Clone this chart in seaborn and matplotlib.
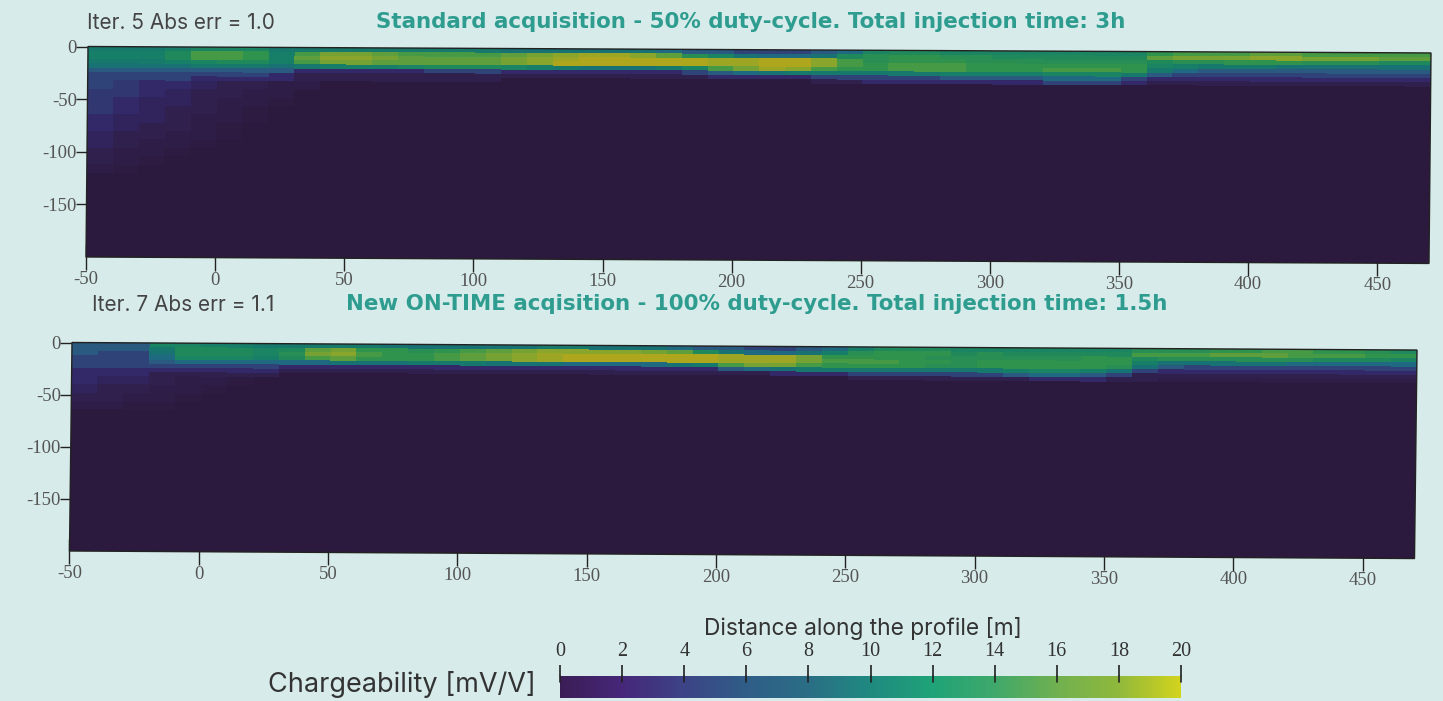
import numpy as np
import pandas as pd
import matplotlib
matplotlib.use("Agg")
import matplotlib.pyplot as plt
import seaborn as sns
from matplotlib.cm import ScalarMappable
from matplotlib.colors import LinearSegmentedColormap, Normalize
from matplotlib.patches import Rectangle
from matplotlib.transforms import Affine2D

# ---- data: chargeability [mV/V], one list per 4 m depth row,
# one value per 10 m column starting at x = -50 m
std_d00 = [7,7,7,8,9,9,9,7, 7,7,7,7,7,7,7,7,6,6,6, 6,6,6,5,4,4,3,3,3,4,5, 9,10,10,9,9,9,9,9,9,9,9, 12,13,13,13,14,14,13,13,13,13,13]
std_d04 = [8,8,8,10,13,13,12,8, 13,15,15,14,13,13,13,13,14,15,16, 17,17,16,14,11,9,6,5,5,6,10, 11,12,12,11,11,10,10,10,10,10,10, 14,15,15,15,16,16,15,15,15,14,14]
std_d08 = [8,8,8,10,13,13,12,8, 14,16,16,15,14,14,14,14,15,16,17, 18,18,18,18,18,17,17,18,18,16,13, 11,12,12,12,11,11,11,11,11,11,11, 10,11,11,12,12,12,11,11,11,10,10]
std_d12 = [7,7,7,8,9,10,10,8, 13,15,15,14,14,14,14,14,15,16,18, 18,18,18,18,18,17,17,18,18,16,13, 12,13,13,13,12,12,12,12,12,12,12, 9,8,7,7,7,6,6,6,6,6,6]
std_d16 = [6,6,6,6,7,7,7,6, 7,8,8,8,9,10,10,10,9,8,7, 6,6,6,7,9,13,15,17,16,13,12, 12,13,13,13,12,12,12,13,13,13,12, 7,5,4,4,4,4,4,4,4,4,4]
std_d20 = [4,4,4,4,4,4,4,4, 2,2,2,2,2,3,3,3,2,2,2, 2,2,2,2,3,4,5,6,7,7,7, 7,7,7,8,8,8,8,9,9,9,7, 4,3,3,3,3,3,3,3,3,3,3]
std_d24 = [3,3,3,3,3,3,3,2, 1,1,1,1,1,1,1,1,1,1,1, 1,1,1,1,1,2,2,2,2,3,3, 3,3,3,4,4,4,4,5,5,5,3, 2,2,2,2,2,2,2,2,2,2,2]
std_d28 = [3,3,3,3,2,2,2,2, 1,1,1,1,1,1,1,1,0,0,0, 0,0,0,0,0,0,0,0,0,1,1, 2,2,2,2,2,2,2,3,3,3,2, 1,1,1,1,1,1,1,1,1,1,1]

# below 32 m only the left end still differs from the background
std_deep_left = [
    [3, 2.5, 2, 2, 1.5, 1, 1, .5, .5],
    [2.5, 2.5, 2, 1.5, 1, 1, .5, .5],
    [2.5, 2, 1.5, 1.5, 1, .5, .5, .3],
    [2.5, 2, 1.5, 1, 1, .5, .3],
    [2, 1.5, 1.5, 1, .5, .5, .3],
    [2, 1.5, 1, 1, .5, .3],
    [1.5, 1, 1, .5, .5, .3],
    [1.5, 1, .5, .5, .3],
    [1, .5, .5, .3],
    [1, .5, .3],
    [.5, .3],
    [],
]
std_deep_repeats = [2, 2, 2, 2, 2, 2, 2, 2, 2, 2, 2, 20]

ont_d00 = [4,4,4,9,9,8,8,7, 7,7,7,7,6,6,6,6,6,6,7, 7,6,6,6,5,4,4,3,3,4,5, 8,10,10,10,9,9,9,9,9,9,9, 11,11,11,12,12,13,13,12,12,11,10]
ont_d04 = [4,4,4,7,10,10,10,9, 10,14,15,12,12,11,12,13,14,15,16, 16,16,16,15,14,10,6,5,5,6,8, 11,12,12,12,10,11,10,10,10,10,10, 13,13,13,14,14,14,13,13,13,12,12]
ont_d08 = [4,3,3,6,10,10,10,9, 11,15,16,13,12,12,13,14,15,16,17, 18,18,18,18,18,18,17,17,17,15,12, 12,12,12,11,11,11,11,11,11,12,12, 10,11,11,11,11,11,11,10,10,10,9]
ont_d12 = [3,3,3,5,9,9,9,8, 10,13,14,12,12,12,13,14,15,16,17, 18,18,18,18,18,18,17,17,17,15,13, 13,13,12,12,11,12,12,12,12,12,12, 8,6,6,6,6,6,5,5,5,5,5]
ont_d16 = [3,3,3,4,5,5,5,5, 5,5,6,6,6,7,7,7,6,6,6, 5,5,5,5,6,7,13,15,15,13,12, 12,12,12,11,11,12,12,12,12,12,11, 6,4,3,3,3,3,3,3,3,3,3]
ont_d20 = [3,3,3,3,3,3,3,3, 2,2,2,2,2,2,2,2,2,2,2, 2,2,2,2,2,2,4,5,6,7,7, 7,7,7,7,7,7,8,9,9,8,6, 3,2,2,2,2,2,2,2,2,2,2]
ont_d24 = [2,2,2,2,2,2,2,2, 1,1,1,1,1,1,1,1,1,1,1, 1,1,1,1,1,1,1,1,2,2,2, 3,3,3,3,3,3,4,5,5,4,3, 1,1,1,1,1,1,1,1,1,1,1]
ont_d28 = [2,2,2,1,1,1,1,1, 0,0,0,0,0,0,0,0,0,0,0, 0,0,0,0,0,0,0,0,0,0,0, 1,1,1,1,1,1,1,2,2,2,1, 1,.5,.5,.5,.5,.5,.5,.5,.5,.5,.5]

ont_deep_left = [
    [2, 1.5, 1.5, 1, .5, .5, .3],
    [1.5, 1, 1, .5, .5, .3],
    [1, 1, .5, .5, .3],
    [.5, .5, .3, .3],
    [],
]
ont_deep_repeats = [2, 2, 2, 2, 34]

std_rows = [std_d00, std_d04, std_d08, std_d12, std_d16, std_d20, std_d24, std_d28]
ont_rows = [ont_d00, ont_d04, ont_d08, ont_d12, ont_d16, ont_d20, ont_d24, ont_d28]

x_ticks = [-50, 0, 50, 100, 150, 200, 250, 300, 350, 400, 450]
y_ticks = [0, -50, -100, -150]
bar_ticks = [0, 2, 4, 6, 8, 10, 12, 14, 16, 18, 20]

panel_colors = ["#2C1A3E", "#30204F", "#33296A", "#2F4478", "#2A5A80", "#1F6A80", "#187273", "#16796C", "#177E68",
                "#1B8462", "#20895C", "#288E54", "#2F934D", "#469945", "#5E9E3C", "#75A234", "#8AA52C", "#9CA624",
                "#ADA61C", "#BBAE16", "#C9B810"]
bar_colors = ["#3B1D56", "#46277A", "#3C4486", "#2F5D87", "#2A6E85", "#1F8A80", "#1FA377", "#3FA86B", "#6FB050",
              "#8FB83C", "#D2D31D"]

BG = "#D7ECEA"
W, H = 1443, 701
sns.set_theme(style="white")
fig = plt.figure(figsize=(W / 100, H / 100), dpi=100, facecolor=BG)

panel_cmap = LinearSegmentedColormap.from_list("panel", panel_colors)
bar_cmap = LinearSegmentedColormap.from_list("bar", bar_colors)
SERIF = "Liberation Serif"
GREY = "#555555"


def px_axes(left, top, right, bottom):
    return fig.add_axes([left / W, 1 - bottom / H, (right - left) / W, (bottom - top) / H])


def build_table(rows, deep_left, deep_repeats):
    n_cols = len(rows[0])
    deep = [list(r) + [0] * (n_cols - len(r)) for r in deep_left]
    return np.vstack([np.array(rows, dtype=float), np.repeat(np.array(deep, dtype=float), deep_repeats, axis=0)])


def draw_panel(table, box, tilt, lean):
    left, top, right, bottom = box
    ax = px_axes(*box)
    ax.set_facecolor("none")
    sns.heatmap(pd.DataFrame(table), ax=ax, cmap=panel_cmap, vmin=0, vmax=20, cbar=False,
                xticklabels=False, yticklabels=False)
    ax.set_facecolor("none")
    x0, y0 = left, H - top
    skew = Affine2D.from_values(1, -tilt, lean, 1, -lean * y0, tilt * x0)
    mesh = ax.collections[0]
    mesh.set_transform(ax.transData + skew)
    mesh.set_clip_on(False)
    mesh.set_edgecolor("face")
    for s in ax.spines.values():
        s.set_visible(False)
    ax.set_xticks([(v + 50) / 10 for v in x_ticks])
    ax.set_xticklabels([str(v) for v in x_ticks], rotation=0)
    ax.set_yticks([-v / 4 for v in y_ticks])
    ax.set_yticklabels([str(v) for v in y_ticks], rotation=0)
    ax.tick_params(axis="both", direction="inout", length=18, width=1, color="#222222", labelsize=13.5,
                   labelcolor=GREY, pad=-1, left=True, bottom=True)
    ax.tick_params(axis="x", pad=1)
    for lab in ax.get_xticklabels() + ax.get_yticklabels():
        lab.set_family(SERIF)
    for tick in ax.xaxis.get_major_ticks():
        tick.tick1line.set_transform(tick.tick1line.get_transform() + skew)
        tick.label1.set_transform(tick.label1.get_transform() + skew)
    ax.add_patch(Rectangle((0, 0), 1, 1, transform=ax.transAxes + skew, fill=False, ec="#222222", lw=1, clip_on=False))
    return ax


draw_panel(build_table(std_rows, std_deep_left, std_deep_repeats), (88, 46.5, 1431, 257), 0.0048, 0.0095)
draw_panel(build_table(ont_rows, ont_deep_left, ont_deep_repeats), (72, 342.5, 1417, 551), 0.0056, 0.012)

# colour bar
cax = px_axes(560, 676, 1181, 698)
cb = fig.colorbar(ScalarMappable(Normalize(0, 20), bar_cmap), cax=cax, orientation="horizontal", ticks=bar_ticks)
cb.outline.set_visible(False)
cax.xaxis.set_ticks_position("top")
cax.xaxis.set_label_position("top")
cax.tick_params(axis="x", direction="out", length=8, width=1.2, color="#222222", labelsize=14.5,
                labelcolor="#333333", pad=3)
for v in bar_ticks:
    cax.axvline(v, ymin=0.75, ymax=1, color="#222222", lw=1.2, clip_on=False)
for lab in cax.get_xticklabels():
    lab.set_family(SERIF)


def px_text(x, y, s, **kw):
    fig.text(x / W, 1 - y / H, s, va="center", **kw)


TITLE = dict(family="DejaVu Sans", weight="bold", color="#2F9C90", fontsize=15.4)
NOTE = dict(family="Inter", color="#444444", fontsize=15)
px_text(376, 22, "Standard acquisition - 50% duty-cycle. Total injection time: 3h", **TITLE)
px_text(346, 304, "New ON-TIME acqisition - 100% duty-cycle. Total injection time: 1.5h", **TITLE)
px_text(87, 23, "Iter. 5 Abs err = 1.0", **NOTE)
px_text(92, 305, "Iter. 7 Abs err = 1.1", **NOTE)
px_text(704, 628, "Distance along the profile [m]", family="Inter", color="#333333", fontsize=16.4)
px_text(268, 685, "Chargeability [mV/V]", family="Inter", color="#333333", fontsize=19.5)

fig.savefig("out.png", dpi=100, facecolor=BG)
